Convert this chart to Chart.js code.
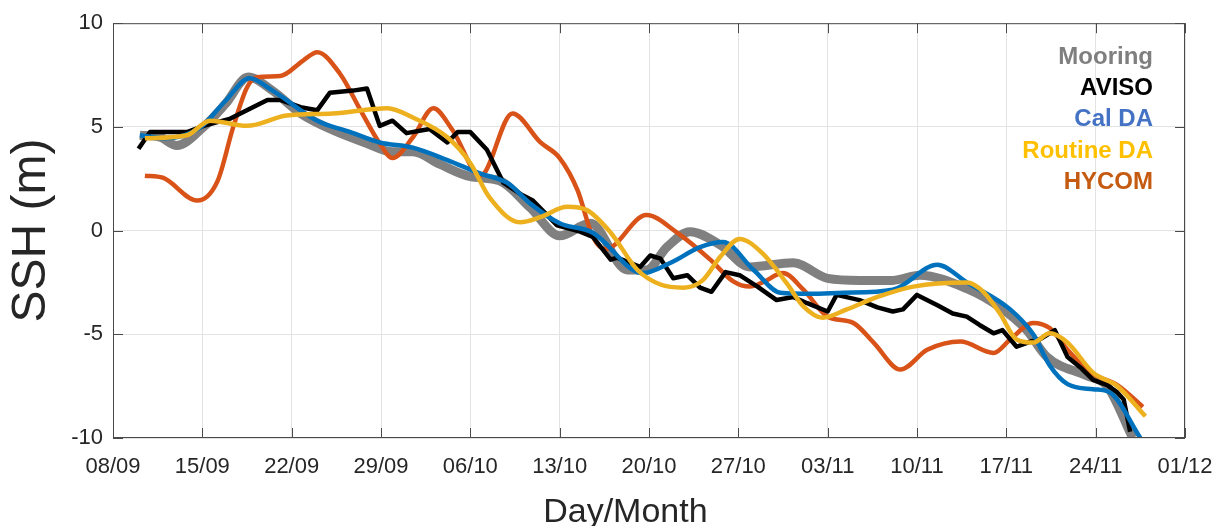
<!DOCTYPE html>
<html>
<head>
<meta charset="utf-8">
<script src="https://cdn.jsdelivr.net/npm/chart.js@4.4.1/dist/chart.umd.min.js"></script>
<style>
  html, body { margin: 0; padding: 0; background: #fff; }
  #wrap { width: 1216px; height: 526px; }
</style>
</head>
<body>
<div id="wrap"><canvas id="sshChart" width="1216" height="526"></canvas></div>
<script>
// x values are days after 08/09
const tickLabels = ['08/09', '15/09', '22/09', '29/09', '06/10', '13/10', '20/10',
                    '27/10', '03/11', '10/11', '17/11', '24/11', '01/12'];

const mooringDays = [2.1, 3.7, 5.0, 7.1, 8.8, 10.6, 12.5, 14.7, 17.2, 19.9, 21.9, 23.5, 25.6, 28.0,
                     30.3, 32.7, 35.0, 37.4, 40.3, 41.8, 43.4, 45.2, 47.6, 49.9, 53.3, 56.0, 58.5,
                     61.1, 63.2, 66.9, 69.5, 71.6, 73.2, 76.3, 77.9, 79.9];
const mooringSSH = [4.6, 4.5, 4.1, 5.0, 6.1, 7.4, 6.75, 5.65, 4.85, 4.2, 3.8, 3.8, 3.2, 2.6,
                    2.4, 1.1, -0.25, 0.35, -1.9, -1.9, -0.8, -0.05, -0.7, -1.75, -1.55, -2.3, -2.4,
                    -2.4, -2.15, -2.8, -3.7, -4.8, -6.1, -7.0, -7.5, -10.0];

const avisoDays = [2.0, 2.9, 5.8, 7.1, 9.2, 12.1, 13.1, 14.7, 16.0, 17.0, 18.8, 19.9, 20.9, 21.9,
                   23.0, 24.8, 26.2, 27.0, 28.0, 29.3, 30.6, 32.1, 32.9, 34.8, 36.6, 37.6, 39.0,
                   39.5, 40.5, 41.3, 42.1, 42.9, 43.9, 45.0, 46.0, 46.9, 48.0, 49.1, 50.5, 52.0,
                   53.3, 54.4, 56.0, 56.7, 58.5, 59.9, 61.1, 61.9, 63.0, 64.6, 65.8, 66.9, 67.9,
                   69.0, 69.7, 70.8, 71.9, 72.6, 73.8, 74.8, 75.8, 76.8, 77.9, 78.7, 79.2, 79.7];
const avisoSSH = [3.95, 4.75, 4.75, 5.05, 5.4, 6.3, 6.3, 5.95, 5.8, 6.65, 6.75, 6.85, 5.05, 5.3,
                  4.7, 4.9, 4.25, 4.75, 4.75, 3.9, 2.3, 1.7, 1.45, 0.25, -0.05, -0.3, -1.4,
                  -1.3, -1.55, -1.75, -1.2, -1.35, -2.3, -2.15, -2.75, -2.95, -2.0, -2.15, -2.7, -3.35,
                  -3.2, -3.5, -3.9, -3.1, -3.35, -3.7, -3.9, -3.8, -3.1, -3.6, -4.0, -4.15, -4.55,
                  -4.95, -4.8, -5.6, -5.35, -5.25, -4.8, -6.1, -6.6, -7.2, -7.45, -7.8, -8.15, -9.7];

const calDays = [2.1, 4.1, 6.8, 8.8, 10.7, 12.5, 16.0, 18.6, 20.9, 23.5, 26.2, 28.8, 30.9, 32.7,
                 35.0, 37.6, 41.5, 43.7, 46.0, 47.8, 50.2, 52.3, 54.6, 57.2, 61.1, 64.6, 66.9,
                 70.3, 72.1, 73.4, 74.8, 76.8, 78.1, 80.5];
const calSSH = [4.6, 4.45, 4.95, 6.25, 7.35, 6.75, 5.3, 4.75, 4.25, 4.0, 3.4, 2.75, 2.3, 1.3,
                0.35, -0.1, -2.05, -1.55, -0.8, -0.55, -1.9, -3.0, -3.05, -3.0, -2.85, -1.65, -2.5,
                -3.8, -5.0, -6.5, -7.4, -7.65, -7.8, -10.0];

const routineDays = [2.5, 5.8, 7.6, 10.5, 13.6, 17.2, 21.5, 23.5, 26.2, 28.0, 29.5, 31.9, 33.5,
                     35.6, 37.1, 39.0, 41.1, 42.9, 44.7, 46.2, 47.6, 49.1, 50.9, 52.8, 54.1, 55.6,
                     57.5, 59.9, 62.7, 66.9, 68.2, 69.5, 70.8, 72.1, 73.4, 74.8, 76.8, 78.7, 80.9];
const routineSSH = [4.45, 4.6, 5.3, 5.05, 5.55, 5.65, 5.9, 5.45, 4.5, 3.25, 1.6, 0.4, 0.65,
                    1.15, 1.0, -0.1, -1.9, -2.6, -2.75, -2.4, -1.25, -0.4, -1.1, -2.55, -3.65, -4.2,
                    -3.8, -3.2, -2.7, -2.5, -2.95, -4.0, -5.25, -5.4, -4.95, -5.4, -6.85, -7.5, -8.95];

const hycomDays = [2.5, 3.9, 6.6, 8.2, 9.4, 10.5, 11.3, 13.1, 14.9, 16.0, 17.8, 19.4, 20.9, 21.9,
                   23.5, 25.1, 26.6, 28.8, 31.3, 33.5, 35.0, 36.4, 37.6, 38.6, 41.8, 44.2, 46.8,
                   48.6, 49.9, 50.9, 52.5, 54.1, 56.0, 58.0, 59.6, 61.7, 63.8, 66.4, 69.0, 70.3,
                   72.1, 73.4, 74.8, 76.6, 78.7, 80.7];
const hycomSSH = [2.65, 2.55, 1.45, 2.4, 4.95, 6.9, 7.4, 7.45, 8.2, 8.6, 7.55, 5.8, 4.2, 3.5,
                  4.5, 5.9, 4.85, 2.65, 5.65, 4.25, 3.5, 1.95, -0.3, -0.9, 0.75, -0.1, -1.4,
                  -2.45, -2.7, -2.5, -2.05, -2.85, -4.15, -4.45, -5.4, -6.7, -5.75, -5.35, -5.9, -5.25,
                  -4.45, -4.7, -5.75, -6.85, -7.45, -8.5];

const seriesNames = ['Mooring', 'AVISO', 'Cal DA', 'Routine DA', 'HYCOM'];
const legendColors = ['#7f7f7f', '#000000', '#4472c4', '#ffc000', '#c55a11'];

const toPoints = (days, vals) => days.map((d, i) => ({ x: d, y: vals[i] }));

Chart.defaults.font.family = '"Liberation Sans", Arial, sans-serif';
Chart.defaults.color = '#262626';

// box around the axes with inward ticks (matlab style)
const axesBox = {
    id: 'axesBox',
    afterDatasetsDraw(chart) {
        const { ctx, chartArea: a, scales } = chart;
        ctx.save();
        ctx.strokeStyle = '#4a4a4a';
        ctx.lineWidth = 1;
        ctx.strokeRect(a.left + 0.5, a.top + 0.5, a.right - a.left - 1, a.bottom - a.top - 1);
        ctx.beginPath();
        scales.x.ticks.forEach(t => {
            const px = Math.round(scales.x.getPixelForValue(t.value)) + 0.5;
            ctx.moveTo(px, a.bottom); ctx.lineTo(px, a.bottom - 10);
            ctx.moveTo(px, a.top); ctx.lineTo(px, a.top + 10);
        });
        scales.y.ticks.forEach(t => {
            const py = Math.round(scales.y.getPixelForValue(t.value)) + 0.5;
            ctx.moveTo(a.left, py); ctx.lineTo(a.left + 10, py);
            ctx.moveTo(a.right, py); ctx.lineTo(a.right - 10, py);
        });
        ctx.stroke();
        ctx.restore();
    }
};

// text-only legend at the top right
const textLegend = {
    id: 'textLegend',
    afterDraw(chart) {
        const { ctx, chartArea: a } = chart;
        ctx.save();
        ctx.font = 'bold 24px "Liberation Sans", Arial, sans-serif';
        ctx.textAlign = 'right';
        ctx.textBaseline = 'middle';
        seriesNames.forEach((name, i) => {
            ctx.fillStyle = legendColors[i];
            ctx.fillText(name, a.right - 32, a.top + 34 + i * 31.3);
        });
        ctx.restore();
    }
};

const canvas = document.getElementById('sshChart');
new Chart(canvas, {
    type: 'line',
    data: {
        datasets: [
            { label: 'Mooring', data: toPoints(mooringDays, mooringSSH), borderColor: '#808080',
              borderWidth: 9, cubicInterpolationMode: 'monotone', order: 5 },
            { label: 'HYCOM', data: toPoints(hycomDays, hycomSSH), borderColor: '#d95319',
              borderWidth: 4.5, cubicInterpolationMode: 'monotone', order: 4 },
            { label: 'AVISO', data: toPoints(avisoDays, avisoSSH), borderColor: '#000000',
              borderWidth: 4.5, tension: 0, order: 3 },
            { label: 'Cal DA', data: toPoints(calDays, calSSH), borderColor: '#0072bd',
              borderWidth: 4.5, cubicInterpolationMode: 'monotone', order: 2 },
            { label: 'Routine DA', data: toPoints(routineDays, routineSSH), borderColor: '#edb120',
              borderWidth: 4.5, cubicInterpolationMode: 'monotone', order: 1 }
        ]
    },
    options: {
        responsive: false,
        animation: false,
        elements: { point: { radius: 0 }, line: { borderJoinStyle: 'round', fill: false } },
        layout: { padding: { top: 22, right: 31, bottom: 0, left: 0 } },
        plugins: { legend: { display: false }, tooltip: { enabled: false } },
        scales: {
            x: {
                type: 'linear',
                min: 0,
                max: 84,
                afterFit(scale) {
                    scale.height = 88;
                    scale.paddingLeft = 0;
                    scale.paddingRight = 0;
                },
                ticks: {
                    stepSize: 7,
                    autoSkip: false,
                    maxRotation: 0,
                    padding: 16,
                    font: { size: 22 },
                    color: '#262626',
                    callback: v => tickLabels[Math.round(v / 7)]
                },
                grid: { color: '#e3e3e3', drawTicks: false },
                border: { display: false },
                title: { display: true, text: 'Day/Month\u00a0\u00a0\u00a0\u00a0\u00a0', font: { size: 34, lineHeight: 0.76 },
                         color: '#262626', padding: { top: 0, bottom: 0 } }
            },
            y: {
                min: -10,
                max: 10,
                afterFit(scale) { scale.width = 113; },
                ticks: { stepSize: 5, padding: 10, font: { size: 22 }, color: '#262626' },
                grid: { color: '#e3e3e3', drawTicks: false },
                border: { display: false },
                title: { display: true, text: 'SSH (m)', font: { size: 48, lineHeight: 1 },
                         color: '#262626', padding: { top: 8, bottom: 0 } }
            }
        }
    },
    plugins: [axesBox, textLegend]
});
</script>
</body>
</html>
